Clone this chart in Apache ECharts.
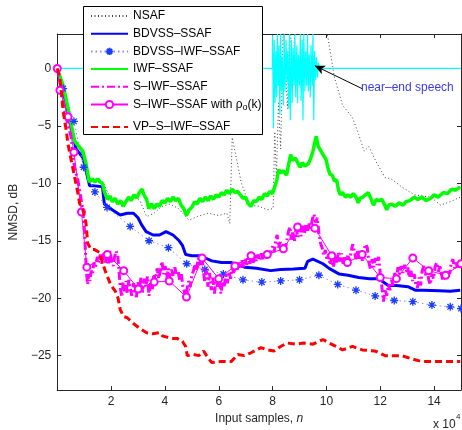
<!DOCTYPE html>
<html><head><meta charset="utf-8">
<script src="https://cdn.jsdelivr.net/npm/echarts@6/dist/echarts.min.js"></script>
<style>html,body{margin:0;padding:0;background:#fff}#c{width:462px;height:430px}</style>
</head><body><div id="c"></div>
<script>
// x in units of 1e4 input samples, y in dB
const xTicks = [2, 4, 6, 8, 10, 12, 14];
const yTicks = [-25, -20, -15, -10, -5, 0];
const seriesNames = ['NSAF', 'BDVSS–SSAF', 'BDVSS–IWF–SSAF', 'IWF–SSAF', 'S–IWF–SSAF', 'S–IWF–SSAF with ρo(k)', 'VP–S–IWF–SSAF'];

const nsaf = [[0,0],[0.2,-1.5],[0.45,-4.2],[0.65,-6.2],[0.95,-7.5],[1.15,-9.6],[1.35,-9.9],[1.7,-9.9],[1.9,-10.9],[2.2,-11.5],[2.5,-11.9],[2.8,-11.1],[3.07,-11.5],[3.32,-12.9],[3.6,-12.6],[3.9,-12.0],[4.2,-11.8],[4.5,-12.2],[4.9,-13.2],[5.2,-12.9],[5.6,-12.6],[6.0,-12.8],[6.3,-12.6],[6.41,-13.5],[6.5,-6.0],[6.84,-10.0],[7.14,-11.9],[7.5,-12.0],[7.8,-12.3],[8.02,-12.2],[8.08,-5.5],[8.14,-9.5],[8.22,-3],[8.3,-7.0],[8.4,4],[8.55,-3.5],[8.65,4],[8.75,-1.5],[8.85,5],[9.5,6],[10.05,2.8],[10.3,-0.8],[10.6,-3.2],[10.97,-4.3],[11.2,-5.75],[11.4,-7.2],[11.58,-6.8],[11.82,-8.0],[12.18,-9.5],[12.4,-9.6],[12.79,-10.3],[13.27,-11.0],[13.88,-11.2],[14.24,-11.9],[14.6,-11.6],[14.97,-11.2]];

const nearEnd = [[0,0],[7.99,0],[8.0,2.9],[8.03,-5.2],[8.06,2.5],[8.09,-3.0],[8.12,1.5],[8.15,-2.5],[8.18,3],[8.21,-1.5],[8.24,2],[8.27,-4],[8.3,3],[8.33,-2],[8.36,1],[8.4,-3.2],[8.43,3],[8.46,-2],[8.5,2.5],[8.53,-1.2],[8.56,1.5],[8.6,-3.5],[8.63,3],[8.66,-4.5],[8.7,2.5],[8.73,-3],[8.76,1.8],[8.8,-1.5],[8.83,3],[8.86,-2.5],[8.9,2],[8.93,-3],[8.96,1.2],[9.0,-1.5],[9.03,3],[9.06,-2.8],[9.1,2.5],[9.13,-4.5],[9.16,3],[9.2,-2],[9.23,1.5],[9.27,-1.5],[9.3,3],[9.33,-2],[9.36,1.2],[9.4,-2.5],[9.43,2],[9.47,-1.5],[9.5,3],[9.53,-4.5],[9.56,1.5],[9.6,-1],[9.63,1],[9.67,-0.8],[9.7,0.5],[9.75,0],[15,0]];

const bdvss = [[0,0],[0.15,-1.2],[0.3,-2.8],[0.45,-4.5],[0.58,-5.75],[0.7,-7.0],[0.95,-7.75],[1.1,-9.2],[1.2,-10.2],[1.31,-10.2],[1.68,-10.3],[1.75,-11.8],[2.04,-12.3],[2.34,-12.75],[2.6,-12.6],[2.83,-12.6],[3.0,-13.0],[3.13,-13.6],[3.3,-14.2],[3.56,-14.5],[3.8,-14.5],[4.04,-14.2],[4.3,-14.5],[4.53,-15.0],[4.65,-15.4],[4.77,-16.2],[5.0,-16.3],[5.26,-16.3],[5.5,-16.5],[5.74,-16.75],[6.1,-16.9],[6.47,-16.9],[6.7,-17.1],[6.96,-17.3],[7.4,-17.4],[7.93,-17.6],[8.3,-17.5],[8.78,-17.45],[9.2,-17.4],[9.3,-16.8],[9.5,-16.6],[9.87,-17.0],[10.1,-17.4],[10.48,-17.9],[10.8,-18.0],[11.2,-18.2],[11.6,-18.3],[11.94,-18.3],[12.3,-18.9],[12.6,-18.9],[13.03,-19.0],[13.3,-19.3],[13.6,-19.3],[14.2,-19.35],[14.6,-19.4],[14.97,-19.3]];

const bdvssIwf = [[0,0],[0.22,-1.75],[0.62,-4.6],[0.98,-8.6],[1.4,-10.75],[1.85,-12.1],[2.71,-13.75],[3.41,-15.0],[4.13,-15.6],[4.81,-17.0],[5.48,-17.5],[6.17,-17.9],[6.9,-18.4],[7.6,-18.6],[8.3,-18.5],[9.0,-18.4],[9.72,-18.0],[10.42,-18.8],[11.1,-19.3],[11.81,-19.8],[12.52,-20.2],[13.21,-20.3],[13.92,-20.6],[14.6,-20.75],[15.0,-20.9]];

const iwf = [[0,0],[0.22,-1.5],[0.4,-3.5],[0.52,-4.9],[0.64,-6.3],[0.77,-6.7],[0.95,-7.2],[1.07,-8.3],[1.19,-9.9],[1.3,-9.6],[1.4,-9.9],[1.5,-9.6],[1.6,-9.9],[1.68,-10.0],[1.75,-10.7],[1.86,-11.4],[1.95,-11.1],[2.05,-11.6],[2.15,-11.3],[2.25,-11.8],[2.35,-11.5],[2.45,-12.0],[2.55,-11.6],[2.65,-11.2],[2.75,-11.5],[2.85,-11.0],[2.95,-11.3],[3.05,-10.8],[3.15,-10.5],[3.22,-11.0],[3.32,-11.4],[3.4,-12.2],[3.5,-11.8],[3.6,-12.2],[3.7,-11.8],[3.8,-12.0],[3.9,-11.5],[4.0,-11.7],[4.1,-11.3],[4.2,-11.6],[4.3,-11.2],[4.4,-11.5],[4.5,-11.3],[4.6,-11.9],[4.7,-12.2],[4.8,-12.8],[4.9,-12.3],[5.0,-12.1],[5.1,-11.6],[5.2,-11.8],[5.3,-11.3],[5.4,-11.6],[5.5,-11.2],[5.6,-11.5],[5.7,-11.1],[5.8,-11.4],[5.9,-11.0],[6.0,-11.2],[6.1,-10.8],[6.2,-11.0],[6.3,-10.6],[6.4,-10.9],[6.5,-10.5],[6.6,-10.8],[6.7,-10.7],[6.8,-11.0],[6.9,-11.3],[7.0,-11.2],[7.1,-11.8],[7.2,-12.0],[7.3,-11.5],[7.4,-11.6],[7.5,-11.2],[7.6,-11.4],[7.7,-10.9],[7.8,-11.1],[7.9,-10.7],[8.0,-10.9],[8.05,-10.5],[8.15,-9.8],[8.23,-8.8],[8.3,-9.1],[8.4,-8.9],[8.52,-9.3],[8.6,-8.3],[8.67,-7.5],[8.75,-8.0],[8.85,-7.8],[8.95,-8.3],[9.03,-8.6],[9.1,-8.2],[9.2,-8.5],[9.33,-8.3],[9.42,-7.8],[9.5,-7.2],[9.58,-6.3],[9.62,-5.9],[9.7,-6.8],[9.8,-7.2],[9.9,-7.6],[9.98,-7.9],[10.05,-8.6],[10.13,-9.2],[10.22,-9.3],[10.3,-9.8],[10.38,-9.7],[10.45,-10.6],[10.52,-11.0],[10.6,-10.8],[10.71,-11.2],[10.8,-11.0],[10.9,-11.2],[11.0,-10.9],[11.1,-11.2],[11.18,-11.7],[11.25,-11.3],[11.35,-11.2],[11.45,-11.0],[11.55,-10.8],[11.65,-11.3],[11.75,-11.9],[11.85,-11.4],[11.95,-11.5],[12.06,-11.4],[12.15,-11.8],[12.24,-12.3],[12.32,-11.9],[12.42,-11.8],[12.55,-12.0],[12.7,-11.7],[12.85,-11.9],[12.95,-11.6],[13.1,-11.5],[13.26,-11.2],[13.4,-11.4],[13.55,-11.2],[13.7,-11.5],[13.88,-11.3],[14.0,-11.0],[14.15,-11.2],[14.35,-10.8],[14.5,-10.9],[14.65,-10.5],[14.8,-10.6],[14.97,-10.3]];

const sIwf = [[0,0],[0.16,-1.75],[0.28,-3.75],[0.4,-4.9],[0.52,-6.0],[0.58,-7.5],[0.64,-8.6],[0.77,-9.75],[0.83,-10.6],[0.95,-12.3],[1.0,-13.75],[1.05,-16.0],[1.08,-17.6],[1.13,-18.8],[1.17,-17.9],[1.21,-18.5],[1.26,-17.6],[1.31,-17.9],[1.36,-16.9],[1.42,-17.3],[1.49,-16.4],[1.54,-16.9],[1.6,-16.2],[1.66,-17.0],[1.72,-16.1],[1.78,-16.9],[1.84,-16.4],[1.9,-17.1],[1.96,-15.9],[2.02,-16.8],[2.08,-17.2],[2.13,-16.4],[2.19,-15.9],[2.25,-16.3],[2.3,-17.8],[2.35,-19.2],[2.4,-19.9],[2.45,-18.6],[2.5,-19.4],[2.55,-18.5],[2.6,-19.6],[2.66,-18.4],[2.71,-19.1],[2.77,-19.8],[2.83,-18.7],[2.88,-19.3],[2.94,-19.9],[3.0,-18.6],[3.05,-19.4],[3.11,-18.2],[3.17,-19.5],[3.23,-18.3],[3.29,-19.0],[3.35,-18.1],[3.41,-19.8],[3.47,-18.6],[3.53,-19.2],[3.59,-17.9],[3.65,-18.5],[3.71,-17.4],[3.77,-18.3],[3.83,-17.6],[3.89,-16.8],[3.95,-17.9],[4.01,-17.2],[4.07,-18.3],[4.13,-17.4],[4.19,-18.4],[4.25,-17.5],[4.31,-18.1],[4.37,-17.3],[4.43,-18.0],[4.49,-17.6],[4.55,-18.5],[4.61,-17.9],[4.67,-19.0],[4.72,-19.4],[4.77,-20.1],[4.82,-19.2],[4.88,-18.5],[4.94,-19.0],[5.0,-18.0],[5.06,-17.6],[5.12,-17.0],[5.18,-17.5],[5.24,-16.5],[5.3,-17.1],[5.36,-16.2],[5.42,-17.4],[5.48,-18.6],[5.54,-17.6],[5.6,-19.0],[5.66,-17.8],[5.72,-19.3],[5.78,-18.2],[5.84,-19.6],[5.9,-18.4],[5.96,-19.0],[6.02,-18.3],[6.08,-19.6],[6.14,-18.5],[6.2,-19.0],[6.26,-18.0],[6.32,-18.7],[6.38,-17.7],[6.44,-18.3],[6.5,-17.3],[6.56,-17.9],[6.62,-17.0],[6.68,-17.6],[6.74,-16.9],[6.8,-17.4],[6.86,-16.7],[6.92,-17.3],[6.98,-16.6],[7.04,-17.1],[7.1,-16.5],[7.16,-17.0],[7.22,-16.4],[7.28,-16.9],[7.34,-16.3],[7.4,-16.8],[7.46,-16.2],[7.52,-16.7],[7.58,-16.1],[7.64,-16.6],[7.7,-16.0],[7.76,-16.5],[7.82,-15.9],[7.88,-16.4],[7.94,-15.8],[8.0,-15.5],[8.06,-16.0],[8.12,-14.9],[8.17,-14.5],[8.22,-15.6],[8.28,-15.1],[8.34,-15.9],[8.4,-15.3],[8.46,-16.0],[8.52,-15.1],[8.58,-14.3],[8.64,-13.8],[8.7,-14.9],[8.76,-14.2],[8.82,-15.0],[8.88,-14.0],[8.94,-14.7],[9.0,-13.9],[9.06,-14.6],[9.12,-13.7],[9.18,-14.4],[9.24,-13.6],[9.3,-14.2],[9.36,-13.5],[9.42,-13.9],[9.48,-13.1],[9.54,-12.7],[9.6,-13.4],[9.66,-13.0],[9.72,-14.3],[9.78,-15.2],[9.84,-15.6],[9.9,-16.3],[9.96,-15.8],[10.02,-16.7],[10.08,-16.2],[10.14,-17.1],[10.2,-16.5],[10.26,-17.3],[10.32,-16.4],[10.38,-16.9],[10.44,-16.0],[10.5,-16.8],[10.56,-16.1],[10.62,-17.0],[10.68,-16.3],[10.74,-16.9],[10.8,-16.2],[10.86,-16.8],[10.92,-15.9],[10.98,-15.3],[11.04,-15.2],[11.1,-16.6],[11.16,-15.8],[11.22,-16.7],[11.28,-15.9],[11.34,-16.8],[11.4,-15.7],[11.46,-15.3],[11.52,-15.6],[11.58,-16.9],[11.64,-17.5],[11.7,-16.6],[11.76,-17.3],[11.82,-16.5],[11.88,-17.1],[11.94,-16.4],[12.0,-17.8],[12.06,-19.0],[12.12,-20.3],[12.18,-19.2],[12.24,-19.8],[12.3,-18.8],[12.36,-19.3],[12.42,-18.4],[12.48,-18.9],[12.54,-17.8],[12.6,-18.3],[12.66,-17.3],[12.72,-17.9],[12.78,-17.2],[12.84,-17.8],[12.9,-17.1],[12.96,-17.7],[13.02,-17.3],[13.08,-18.2],[13.14,-17.6],[13.2,-18.5],[13.26,-17.9],[13.32,-18.8],[13.38,-19.1],[13.44,-18.2],[13.5,-18.9],[13.56,-17.6],[13.62,-17.2],[13.68,-18.0],[13.74,-17.4],[13.8,-18.4],[13.86,-18.8],[13.92,-17.9],[13.98,-18.3],[14.04,-17.2],[14.1,-16.9],[14.16,-17.7],[14.22,-17.1],[14.28,-18.0],[14.34,-18.5],[14.4,-17.8],[14.46,-18.2],[14.52,-17.5],[14.58,-17.9],[14.64,-16.9],[14.7,-16.6],[14.76,-17.4],[14.82,-16.9],[14.88,-17.5],[14.94,-16.8],[15.0,-17.1]];

const sIwfRho = [[0,0],[0.1,-1.9],[0.4,-4.2],[0.62,-7.3],[0.9,-12.5],[1.1,-17.3],[1.86,-16.2],[2.47,-17.6],[3.01,-19.2],[3.6,-18.6],[4.16,-18.5],[4.8,-19.9],[5.38,-16.5],[6.0,-18.3],[6.6,-17.2],[7.2,-16.3],[7.8,-16.2],[8.4,-15.7],[8.93,-13.8],[9.57,-13.9],[10.2,-16.3],[10.78,-16.9],[11.33,-16.2],[12.0,-18.2],[12.6,-18.3],[13.21,-16.5],[13.8,-17.6],[14.43,-18.0],[15.0,-17.0]];

const vpSIwf = [[0,0],[0.1,-0.9],[0.22,-3.75],[0.34,-5.5],[0.4,-6.6],[0.52,-8.0],[0.64,-9.4],[0.77,-10.9],[0.83,-11.75],[0.95,-12.3],[1.07,-13.5],[1.13,-15.2],[1.25,-15.75],[1.37,-15.75],[1.56,-16.0],[1.68,-16.9],[1.8,-17.75],[1.98,-18.8],[2.16,-19.4],[2.26,-20.0],[2.34,-21.0],[2.47,-21.6],[2.6,-21.7],[2.83,-22.2],[3.05,-22.6],[3.32,-23.0],[3.55,-23.1],[3.8,-23.0],[3.92,-23.3],[4.1,-23.4],[4.29,-23.5],[4.45,-23.5],[4.65,-23.75],[4.77,-24.2],[4.83,-25.0],[5.05,-24.9],[5.26,-25.0],[5.44,-24.6],[5.6,-25.2],[5.74,-25.6],[6.1,-25.5],[6.47,-25.5],[6.71,-24.9],[6.95,-25.0],[7.2,-24.75],[7.57,-24.3],[7.8,-24.5],[8.05,-24.6],[8.3,-24.2],[8.54,-23.9],[8.85,-24.0],[9.14,-23.9],[9.5,-24.0],[9.87,-23.6],[10.1,-23.9],[10.36,-24.2],[10.6,-24.5],[10.97,-24.2],[11.33,-24.5],[11.81,-24.6],[12.18,-25.0],[12.79,-25.0],[13.2,-25.3],[13.52,-25.5],[14.24,-25.5],[14.97,-25.5]];

const arrowFrom = [11.33, -1.76];
const arrowTo = [9.57, 0.24];

const FONT = '"Liberation Sans", Arial, Helvetica, sans-serif';
const AX = '#262626';
const minus = v => String(v).replace('-', '−');
const asterisk = 'path://M0,-10L0,10M-10,0L10,0M-7,-7L7,7M-7,7L7,-7';

const chart = echarts.init(document.getElementById('c'), null, {renderer: 'canvas'});
const axisCommon = {
  axisLine: {show: true, onZero: false, lineStyle: {color: AX, width: 1}},
  splitLine: {show: false}
};
const hideSym = {opacity: 0};
const legendText = {fontFamily: FONT, fontSize: 12, color: '#000',
  rich: {s: {fontFamily: FONT, fontSize: 9, color: '#000', padding: [7, 0, 0, 0]}}};
const legendFmt = function (name) {
  if (name === seriesNames[5]) return 'S–IWF–SSAF with ρ{s|o}(k)';
  return name;
};
chart.setOption({
  animation: false,
  backgroundColor: '#fff',
  grid: {left: 49, top: 34, right: 1, bottom: 35, containLabel: false},
  xAxis: [
    Object.assign({
      type: 'value', min: 0, max: 15, position: 'bottom',
      name: 'Input samples, {i|n}', nameLocation: 'middle', nameGap: 18,
      nameTextStyle: {fontFamily: FONT, fontSize: 12, color: AX, rich: {i: {fontStyle: 'italic', fontFamily: FONT, fontSize: 12, color: AX}}},
      axisTick: {show: true, inside: true, length: 4, customValues: xTicks, lineStyle: {color: AX}},
      axisLabel: {customValues: xTicks, fontFamily: FONT, fontSize: 12, color: AX, margin: 6}
    }, axisCommon),
    Object.assign({
      type: 'value', min: 0, max: 15, position: 'top',
      axisTick: {show: true, inside: true, length: 4, customValues: xTicks, lineStyle: {color: AX}},
      axisLabel: {show: false}
    }, axisCommon)
  ],
  yAxis: [
    Object.assign({
      type: 'value', min: -28, max: 3, position: 'left',
      name: 'NMSD, dB', nameLocation: 'middle', nameGap: 30,
      nameTextStyle: {fontFamily: FONT, fontSize: 12, color: AX},
      axisTick: {show: true, inside: true, length: 4, customValues: yTicks, lineStyle: {color: AX}},
      axisLabel: {customValues: yTicks, fontFamily: FONT, fontSize: 12, color: AX, margin: 6, formatter: minus}
    }, axisCommon),
    Object.assign({
      type: 'value', min: -28, max: 3, position: 'right',
      axisTick: {show: true, inside: true, length: 4, customValues: yTicks, lineStyle: {color: AX}},
      axisLabel: {show: false}
    }, axisCommon)
  ],
  legend: [
    {
      orient: 'vertical', left: 83, top: 6, z: 10,
      padding: [4, 0, 0, 7], itemGap: 5.7, itemWidth: 37, itemHeight: 9,
      data: [
        {name: seriesNames[0], itemStyle: hideSym},
        {name: seriesNames[1], itemStyle: hideSym},
        {name: seriesNames[2]},
        {name: seriesNames[3], itemStyle: hideSym},
        {name: seriesNames[4], itemStyle: hideSym},
        {name: seriesNames[5]}
      ],
      textStyle: legendText, formatter: legendFmt
    },
    {
      orient: 'vertical', left: 83, top: 121, z: 10,
      padding: [0, 0, 0, 7], itemGap: 5, itemWidth: 37, itemHeight: 9,
      data: [{name: seriesNames[6], itemStyle: hideSym}],
      textStyle: legendText, formatter: legendFmt
    }
  ],
  graphic: [
    {type: 'rect', z: 8, shape: {x: 83.5, y: 6.5, width: 179, height: 128},
      style: {fill: '#fff', stroke: '#000', lineWidth: 1}},
    {type: 'text', left: 361, top: 82, style: {text: 'near–end speech', fill: '#3b3bf5', font: '12px ' + FONT}},
    {type: 'text', left: 433, top: 419, style: {text: 'x 10', fill: AX, font: '12px ' + FONT}},
    {type: 'text', left: 456, top: 413, style: {text: '4', fill: AX, font: '8px ' + FONT}}
  ],
  series: [
    {name: seriesNames[0], type: 'line', data: nsaf, symbol: 'none', z: 2,
      lineStyle: {color: '#444', width: 1, type: [1, 2.5]}, itemStyle: {color: '#444'}},
    {name: 'near-end', type: 'line', data: nearEnd, symbol: 'none', z: 2,
      lineStyle: {color: '#00ffff', width: 1.2}, itemStyle: {color: '#00ffff'},
      markLine: {silent: true, symbol: ['none', 'arrow'], symbolSize: [7, 10],
        lineStyle: {color: '#000', width: 1, type: 'solid'}, label: {show: false},
        data: [[{coord: arrowFrom}, {coord: arrowTo}]]}},
    {name: seriesNames[1], type: 'line', data: bdvss, symbol: 'none', z: 3,
      lineStyle: {color: '#0000ff', width: 3}, itemStyle: {color: '#0000ff'}},
    {name: seriesNames[2], type: 'line', data: bdvssIwf, symbol: asterisk, symbolSize: 8, showSymbol: true, z: 3,
      lineStyle: {color: '#8a8aff', width: 1, type: [1.5, 3]},
      itemStyle: {color: '#1a3cff', borderColor: '#1a3cff', borderWidth: 1.3}},
    {name: seriesNames[3], type: 'line', data: iwf, symbol: 'none', z: 3,
      lineStyle: {color: '#00ff00', width: 3.5}, itemStyle: {color: '#00ff00'}},
    {name: seriesNames[4], type: 'line', data: sIwf, symbol: 'none', z: 4,
      lineStyle: {color: '#ff00ff', width: 3, type: [8, 3, 2, 3]}, itemStyle: {color: '#ff00ff'}},
    {name: seriesNames[5], type: 'line', data: sIwfRho, symbol: 'emptyCircle', symbolSize: 7, showSymbol: true, z: 4,
      lineStyle: {color: '#ff00ff', width: 1}, itemStyle: {color: '#ff00ff', borderWidth: 0.9}},
    {name: seriesNames[6], type: 'line', data: vpSIwf, symbol: 'none', z: 5,
      lineStyle: {color: '#ff0000', width: 3, type: [7, 4]}, itemStyle: {color: '#ff0000'}}
  ]
});
</script>
</body></html>
